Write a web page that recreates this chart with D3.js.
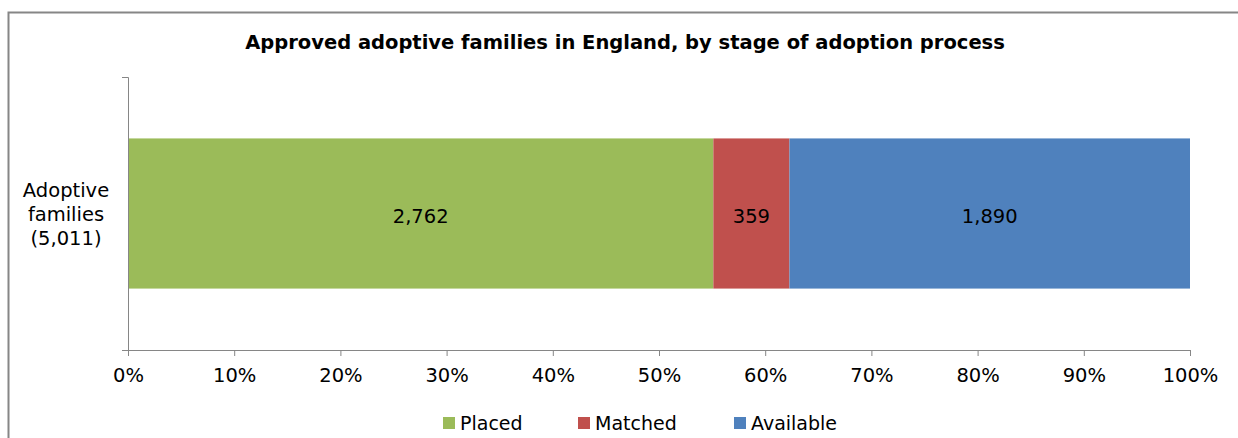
<!DOCTYPE html>
<html><head><meta charset="utf-8">
<script src="https://cdn.jsdelivr.net/npm/d3@7"></script>
<style>body{margin:0;background:#fff;} text{font-family:"DejaVu Sans",Verdana,sans-serif;}</style>
</head><body>
<svg id="c" width="1238" height="438"></svg>
<script>
const categories = ["Adoptive families (5,011)"];
const categoryLines = [["Adoptive", "families", "(5,011)"]];
const seriesNames = ["Placed", "Matched", "Available"];
const seriesColors = ["#9BBB59", "#C0504D", "#4F81BD"];
const placed = [2762];
const matched = [359];
const available = [1890];
const tickValues = [0, 0.1, 0.2, 0.3, 0.4, 0.5, 0.6, 0.7, 0.8, 0.9, 1.0];
const title = "Approved adoptive families in England, by stage of adoption process";

const svg = d3.select("#c");
svg.append("rect").attr("x", 8.5).attr("y", 12.5).attr("width", 1240).attr("height", 440)
  .attr("fill", "#fff").attr("stroke", "#868686").attr("stroke-width", 2);

svg.append("text").attr("x", 625).attr("y", 49).attr("text-anchor", "middle")
  .attr("font-weight", "bold").attr("font-size", 19.5).attr("fill", "#000").text(title);

const x = d3.scaleLinear().domain([0, 1]).range([128, 1190]);
const y = d3.scaleBand().domain(categories).range([77, 350]).paddingInner(0.45).paddingOuter(0.225);

const rows = categories.map((c, i) => {
  const vals = [placed[i], matched[i], available[i]];
  const total = d3.sum(vals);
  let acc = 0;
  return vals.map((v, k) => { const s = acc / total; acc += v; return {cat: c, k, v, x0: s, x1: acc / total}; });
});

const g = svg.append("g");
rows.forEach(r => {
  g.selectAll(null).data(r).enter().append("rect")
    .attr("x", d => x(d.x0)).attr("width", d => x(d.x1) - x(d.x0))
    .attr("y", d => y(d.cat)).attr("height", y.bandwidth())
    .attr("fill", d => seriesColors[d.k]);
  g.selectAll(null).data(r).enter().append("text")
    .attr("x", d => (x(d.x0) + x(d.x1)) / 2).attr("y", d => y(d.cat) + y.bandwidth() / 2 + 9)
    .attr("text-anchor", "middle").attr("font-size", 19.5).attr("fill", "#000")
    .text(d => d3.format(",")(d.v));
});

// axes
const xAxis = d3.axisBottom(x).tickValues(tickValues).tickFormat(d3.format(".0%")).tickSize(6).tickSizeOuter(6);
const xg = svg.append("g").attr("transform", "translate(0,350)").call(xAxis);
xg.select(".domain").attr("stroke", "#868686");
xg.selectAll(".tick line").attr("stroke", "#868686");
xg.selectAll(".tick text").attr("font-size", 19.5).attr("fill", "#000").attr("y", 32).attr("dy", null)
  .attr("font-family", "DejaVu Sans, Verdana, sans-serif");

const yAxis = d3.axisLeft(y.copy().range([77, 350]).paddingInner(0).paddingOuter(0)).tickSize(0).tickSizeOuter(6).tickFormat("");
const yg = svg.append("g").attr("transform", "translate(128,0)").call(yAxis);
yg.select(".domain").attr("stroke", "#868686");

categories.forEach((c, i) => {
  const cy = y(c) + y.bandwidth() / 2;
  const t = svg.append("text").attr("text-anchor", "middle").attr("font-size", 19.5).attr("fill", "#000");
  categoryLines[i].forEach((ln, j) => {
    t.append("tspan").attr("x", 66).attr("y", cy - 17 + j * 24).text(ln);
  });
});

// legend
const legendX = [443, 578, 734];
const lg = svg.append("g");
seriesNames.forEach((n, i) => {
  lg.append("rect").attr("x", legendX[i]).attr("y", 417).attr("width", 12).attr("height", 12).attr("fill", seriesColors[i]);
  lg.append("text").attr("x", legendX[i] + 17).attr("y", 430).attr("font-size", 19).attr("fill", "#000").text(n);
});
</script>
</body></html>
